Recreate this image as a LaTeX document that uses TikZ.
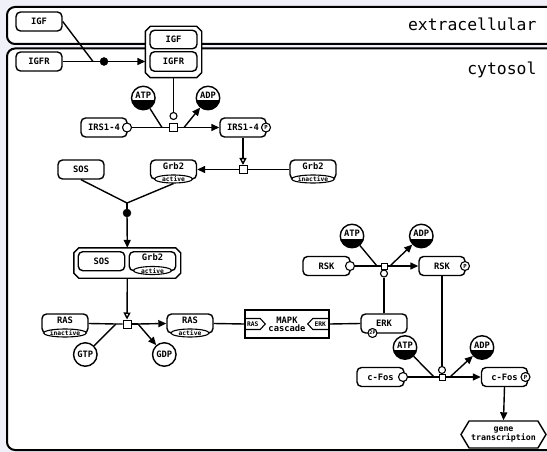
\documentclass[tikz,border=0pt]{standalone}
\usepackage{fontspec}
\setmainfont{DejaVu Sans Mono}
\usetikzlibrary{arrows.meta,shapes.misc,shapes.symbols,shapes.geometric,calc}
\definecolor{bgcol}{RGB}{240,240,248}
\tikzset{
  lbl/.style={font=\fontsize{8.8}{9}\selectfont\bfseries},
  macro/.style={draw, line width=1.4pt, rounded corners=4.5pt, fill=white,
    minimum width=46pt, minimum height=19pt, inner sep=0pt, lbl},
  macrou/.style={macro, text height=6pt, text depth=7pt},
  uoi/.style={draw, ellipse, line width=1.1pt, fill=white, minimum width=38pt,
    minimum height=8pt, inner sep=0pt, font=\fontsize{6.3}{6.5}\selectfont\bfseries},
  svar/.style={draw, circle, line width=1.1pt, fill=white, minimum size=9pt,
    inner sep=0pt, font=\fontsize{5.6}{6}\selectfont\bfseries},
  chem/.style={draw, circle, line width=1.4pt, fill=white, minimum size=23.5pt,
    inner sep=0pt, lbl},
  clone/.style={chem, text height=6pt, text depth=5pt,
    path picture={\fill[black] ([yshift=-2.5pt]path picture bounding box.west)
      rectangle (path picture bounding box.south east);}},
  cplxbox/.style={rectangle, inner sep=0pt},
  cplxline/.style={draw, line width=1.4pt, fill=white},
  proc/.style={draw, rectangle, line width=1pt, fill=white, minimum size=8pt, inner sep=0pt},
  sproc/.style={proc, minimum size=6pt},
  assoc/.style={draw, circle, fill=black, minimum size=8pt, inner sep=0pt},
  catal/.style={draw, circle, line width=1.1pt, fill=white, minimum size=7pt, inner sep=0pt},
  arc/.style={line width=1.4pt},
  prod/.style={arc, -{Triangle[length=8pt,width=7pt]}},
  stim/.style={arc, -{Triangle[open,length=7pt,width=7pt,fill=white]}},
  comp/.style={draw, line width=2pt, fill=white, rounded corners=8pt},
  pheno/.style={draw, signal, signal to=west and east, signal pointer angle=118,
    line width=1.4pt, fill=white, minimum width=85pt, minimum height=27pt,
    inner sep=0pt, align=center, font=\fontsize{8.3}{8.6}\selectfont\bfseries},
  tagtxt/.style={font=\fontsize{6.3}{7}\selectfont\bfseries, inner sep=0pt},
}
% octagonal outline of a complex node, corners cut by #2
\newcommand{\cplxoutline}[2]{%
  \path[cplxline] ($(#1.north west)+(#2,0)$) -- ($(#1.north east)+(-#2,0)$)
    -- ($(#1.north east)+(0,#2)$) -- ($(#1.south east)+(0,-#2)$)
    -- ($(#1.south east)+(-#2,0)$) -- ($(#1.south west)+(#2,0)$)
    -- ($(#1.south west)+(0,-#2)$) -- ($(#1.north west)+(0,#2)$) -- cycle;}
\begin{document}
\begin{tikzpicture}[x=1pt,y=-1pt]
\useasboundingbox (0,0) rectangle (547,452);
\fill[bgcol] (0,0) rectangle (547,452);

% compartments
\path[comp] (7,7) rectangle (570,44);
\path[comp] (7,48.5) rectangle (570,450);
\node[anchor=east, font=\fontsize{16.4}{18}\selectfont] (lblext) at (540,24.5) {extracellular};
\node[anchor=east, font=\fontsize{16.4}{18}\selectfont] (lblcyt) at (540,70) {cytosol};

% receptor binding
\node[macro] (igf) at (39,21.5) {IGF};
\node[macro] (igfr) at (39,61.5) {IGFR};
\coordinate (j1) at (93,61.5);
\node[assoc] (as1) at (104,61.5) {};
\node[cplxbox, minimum width=56pt, minimum height=51pt] (cx1) at (173.5,52) {};
\cplxoutline{cx1}{5}
\node[macro, minimum width=47pt, minimum height=18.5pt] (cx1igf) at (173.5,39.5) {IGF};
\node[macro, minimum width=47pt, minimum height=19.5pt] (cx1igfr) at (173.5,61.5) {IGFR};

% IRS phosphorylation
\node[macro] (irs) at (104,127.5) {IRS1-4\hspace{3pt}};
\node[svar] (irsU) at (127,127.5) {};
\node[macro] (irsp) at (243,127.5) {IRS1-4\hspace{3pt}};
\node[svar] (irspP) at (266,127.5) {P};
\node[clone] (atp1) at (143.3,98) {ATP};
\node[clone] (adp1) at (208,98) {ADP};
\node[catal] (cat1) at (173.5,116) {};
\node[proc] (pr1) at (173.5,127.5) {};
\coordinate (in1) at (162,127.5);
\coordinate (out1) at (184,127.5);

% Grb2 activation
\node[proc] (pr2) at (243,169.5) {};
\node[macrou] (grbi) at (313,169.5) {Grb2};
\node[uoi] (grbiU) at (313,179) {inactive};
\node[macrou] (grba) at (173.5,169.5) {Grb2};
\node[uoi] (grbaU) at (173.5,179) {active};

% SOS:Grb2 association
\node[macro] (sos) at (81,169.5) {SOS};
\coordinate (j2) at (127,203);
\node[assoc] (as2) at (127,213) {};
\node[cplxbox, minimum width=106.5pt, minimum height=30pt] (cx2) at (127.3,263) {};
\cplxoutline{cx2}{5}
\node[macro, minimum width=46.5pt] (cx2sos) at (101.5,261.2) {SOS};
\node[macrou, minimum width=46.5pt] (cx2grb) at (152.5,261.2) {Grb2};
\node[uoi] (cx2grbU) at (152.5,270.5) {active};

% RAS activation
\node[proc] (pr3) at (127,324) {};
\node[macrou] (rasi) at (65,323.5) {RAS};
\node[uoi] (rasiU) at (65,333) {inactive};
\node[macrou] (rasa) at (190,323.5) {RAS};
\node[uoi] (rasaU) at (190,333) {active};
\node[chem] (gtp) at (85.3,354.5) {GTP};
\node[chem] (gdp) at (164.3,354.5) {GDP};
\coordinate (in3) at (116,324);
\coordinate (out3) at (138,324);

% MAPK cascade submap
\node[draw, line width=1.5pt, fill=white, minimum width=84pt, minimum height=28pt,
  inner sep=0pt, align=center, font=\fontsize{8.8}{8}\selectfont\bfseries]
  (mapk) at (287,324) {MAPK\\cascade};
\draw[line width=1.1pt] ($(mapk.west)+(0,-5.5)$) -- ++(16,0) -- ++(5,5.5) -- ++(-5,5.5) -- ++(-16,0);
\draw[line width=1.1pt] ($(mapk.east)+(0,-5.5)$) -- ++(-17,0) -- ++(-5,5.5) -- ++(5,5.5) -- ++(17,0);
\node[tagtxt] (tagras) at ($(mapk.west)+(8.5,0)$) {RAS};
\node[tagtxt] (tagerk) at ($(mapk.east)+(-9.5,0)$) {ERK};

% ERK and RSK phosphorylation
\node[macro] (erk) at (384,323.5) {ERK};
\node[svar, font=\fontsize{5}{5}\selectfont\bfseries] (erkP) at (372.5,333) {2P};
\node[macro, minimum width=47pt] (rsk) at (326.5,266) {RSK};
\node[svar] (rskU) at (350,266) {};
\node[macro] (rskp) at (442,266) {RSK};
\node[svar] (rskpP) at (465,266) {P};
\node[clone] (atp4) at (352,236) {ATP};
\node[clone] (adp4) at (421.3,236) {ADP};
\node[sproc] (pr4) at (384,266) {};
\node[catal] (cat4) at (384,273.5) {};
\coordinate (in4) at (377,266);
\coordinate (out4) at (390,266);

% c-Fos phosphorylation
\node[macro, minimum width=47pt] (fos) at (380.5,377) {c-Fos\hspace{3pt}};
\node[svar] (fosU) at (403,377) {};
\node[macro] (fosp) at (504.5,377) {c-Fos\hspace{3pt}};
\node[svar] (fospP) at (525.5,377) {P};
\node[clone] (atp5) at (405,347.5) {ATP};
\node[clone] (adp5) at (482,347.5) {ADP};
\node[catal] (cat5) at (442,370) {};
\node[sproc] (pr5) at (442,377) {};
\coordinate (in5) at (434,377);
\coordinate (out5) at (450,377);
\node[pheno] (pheno) at (503.5,434.5) {gene\\transcription};

% arcs
\draw[arc] (igf.east) -- (j1);
\draw[arc] (igfr.east) -- (j1) -- (as1);
\draw[prod] (as1) -- (as1 -| cx1.west);
\draw[arc] (cx1.south) -- (cat1);

\draw[arc] (irsU.east) -- (in1) -- (pr1.west);
\draw[arc] (atp1) -- (in1);
\draw[arc] (pr1.east) -- (out1);
\draw[prod] (out1) -- (irsp.west);
\draw[prod] (out1) -- (adp1);

\draw[stim] (irsp.south) -- (pr2.north);
\draw[arc] (grbi.west) -- (pr2.east);
\draw[prod] (pr2.west) -- (grba.east);

\draw[arc] (sos.south) -- (j2);
\draw[arc] (grbaU.south) -- (j2);
\draw[arc] (j2) -- (as2);
\draw[prod] (as2) -- (cx2.north);

\draw[stim] (cx2.south) -- (pr3.north);
\draw[arc] (rasi.east) -- (in3) -- (pr3.west);
\draw[arc] (gtp) -- (in3);
\draw[arc] (pr3.east) -- (out3);
\draw[prod] (out3) -- (rasa.west);
\draw[prod] (out3) -- (gdp);
\draw[arc] (rasa.east) -- (mapk.west);
\draw[arc] (mapk.east) -- (erk.west);
\draw[arc] (erk.north) -- (cat4);

\draw[arc] (rskU.east) -- (in4) -- (pr4.west);
\draw[arc] (atp4) -- (in4);
\draw[arc] (pr4.east) -- (out4);
\draw[prod] (out4) -- (rskp.west);
\draw[prod] (out4) -- (adp4);
\draw[arc] (rskp.south) -- (cat5);

\draw[arc] (fosU.east) -- (in5) -- (pr5.west);
\draw[arc] (atp5) -- (in5);
\draw[arc] (pr5.east) -- (out5);
\draw[prod] (out5) -- (fosp.west);
\draw[prod] (out5) -- (adp5);
\draw[prod] (fosp.south) -- (pheno.north);
\end{tikzpicture}
\end{document}
